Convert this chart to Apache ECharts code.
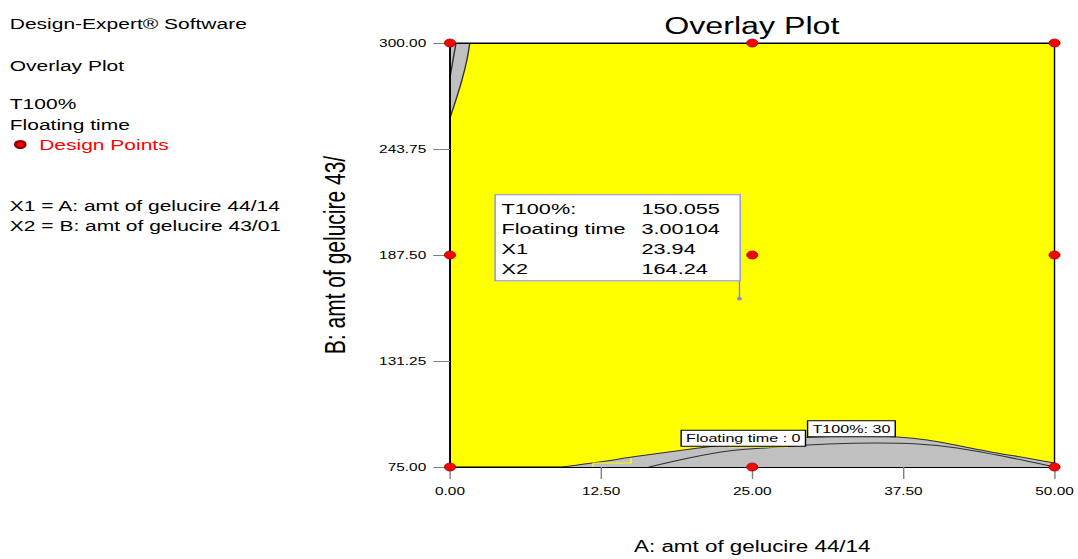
<!DOCTYPE html>
<html>
<head>
<meta charset="utf-8">
<script src="https://cdn.jsdelivr.net/npm/echarts@6/dist/echarts.min.js"></script>
<style>
html,body{margin:0;padding:0;background:#fff;overflow:hidden;}
#wrap{width:1078px;height:559px;overflow:hidden;}
#c{width:770px;height:559px;transform:scaleX(1.4);transform-origin:0 0;}
</style>
</head>
<body>
<div id="wrap"><div id="c"></div></div>
<script>
// ---- data ----
const xTicks = [0, 12.5, 25, 37.5, 50];
const yTicks = [75, 131.25, 187.5, 243.75, 300];
const designPoints = [[0,300],[25,300],[50,300],[0,187.5],[25,187.5],[50,187.5],[0,75],[25,75],[50,75]];
// gray (infeasible) region, bottom: upper boundary
const bottomEnvelope = [[9.29,75],[12.34,77.65],[15.63,80.83],[20.56,85.06],[23.85,87.71],[27.14,89.83],[30.43,90.88],[33.72,91.41],[37.01,90.88],[39.47,89.30],[42.19,86.12],[45.23,82.42],[47.70,79.77],[50,77.12]];
// second contour inside the bottom region
const bottomInner = [[16.45,75],[19.74,79.77],[23.03,83.47],[27.14,85.59],[31.25,87.18],[35.36,87.71],[38.65,87.18],[41.94,85.06],[45.23,81.36],[47.70,78.18],[50,75]];
// gray region, top-left corner
const topLeftBoundary = [[0,260.3],[0.49,269.8],[0.99,280.4],[1.40,291],[1.64,300]];
const topLeftInner = [[0,282],[0.5,300]];
// thin yellow leader lines inside the gray region
const yellowStep = [[11.84,75],[11.84,77.1],[14.97,77.1],[14.97,79.77]];
const floatLeader = [[23.03,85.6],[27.96,85.6]];
// contour labels
const contourLabelText = ['Floating time : 0', 'T100%: 30'];
const contourLabelAt = [[24.26,90.3],[33.2,95.3]];
// flag annotation
const annotPoint = [23.94, 164.24];
const annotNames = ['T100%:', 'Floating time', 'X1', 'X2'];
const annotValues = ['150.055', '3.00104', '23.94', '164.24'];
// side text
const infoLines = ['Design-Expert® Software', 'Overlay Plot', 'T100%', 'Floating time', 'X1 = A: amt of gelucire 44/14', 'X2 = B: amt of gelucire 43/01'];
const infoY = [24, 66, 104, 125, 206, 226];

const FONT = '"Liberation Sans", Arial, sans-serif';
const chart = echarts.init(document.getElementById('c'), null, {renderer: 'svg'});

const option = {
  animation: false,
  textStyle: {fontFamily: FONT},
  title: {
    text: 'Overlay Plot', left: 537, top: 15, textAlign: 'center', padding: 0,
    textStyle: {fontSize: 23, fontWeight: 'normal', color: '#000', fontFamily: FONT}
  },
  legend: {
    data: ['Design Points'], left: 10, top: 137, orient: 'vertical', padding: 0,
    itemWidth: 7, itemHeight: 7, icon: 'circle',
    textStyle: {fontSize: 15, color: '#ff0000', fontFamily: FONT, padding: [0,0,0,5]}
  },
  graphic: infoLines.map((t, i) => ({
    type: 'text', x: 7, y: infoY[i],
    style: {text: t, fontSize: 15, fontFamily: FONT, fill: '#000', verticalAlign: 'middle', textVerticalAlign: 'middle'}
  })),
  grid: {
    left: 321.43, right: 14.29, top: 43, bottom: 91,
    show: true, backgroundColor: '#ffff00', borderColor: '#000', borderWidth: 1
  },
  xAxis: [{
    type: 'value', min: 0, max: 50, interval: 12.5, position: 'bottom', z: 5,
    axisLine: {show: true, lineStyle: {color: '#000', width: 1}},
    axisTick: {show: true, length: 12, lineStyle: {color: '#808080'}},
    axisLabel: {margin: 19, fontSize: 11, color: '#000', fontFamily: FONT, formatter: v => v.toFixed(2)},
    splitLine: {show: false},
    name: 'A: amt of gelucire 44/14', nameLocation: 'middle', nameGap: 71,
    nameTextStyle: {fontSize: 16, color: '#000', fontFamily: FONT}
  }, {
    type: 'value', min: 0, max: 50, position: 'top', z: 5,
    axisLine: {show: true, lineStyle: {color: '#000'}},
    axisTick: {show: false}, axisLabel: {show: false}, splitLine: {show: false}
  }],
  yAxis: [{
    type: 'value', min: 75, max: 300, position: 'left', z: 5,
    axisLine: {show: true, lineStyle: {color: '#000', width: 1}},
    axisTick: {show: true, length: 12, lineStyle: {color: '#808080'}, customValues: yTicks},
    axisLabel: {margin: 17, fontSize: 11, color: '#000', fontFamily: FONT, customValues: yTicks, formatter: v => v.toFixed(2)},
    splitLine: {show: false},
    name: 'B: amt of gelucire 43/01', nameLocation: 'middle', nameGap: 72, nameRotate: 90,
    nameTruncate: {maxWidth: 210, ellipsis: ''},
    nameTextStyle: {fontSize: 21, color: '#000', fontFamily: FONT}
  }, {
    type: 'value', min: 75, max: 300, position: 'right', z: 5,
    axisLine: {show: true, lineStyle: {color: '#000'}},
    axisTick: {show: false}, axisLabel: {show: false}, splitLine: {show: false}
  }],
  series: [
    {
      name: 'bottomRegion', type: 'line', data: bottomEnvelope, smooth: 0.3, showSymbol: false, symbol: 'none',
      lineStyle: {color: '#303030', width: 1}, areaStyle: {color: '#c0c0c0', opacity: 1, origin: 'start'}, z: 2
    },
    {
      name: 'bottomInner', type: 'line', data: bottomInner, smooth: 0.3, showSymbol: false, symbol: 'none',
      lineStyle: {color: '#303030', width: 1}, z: 3
    },
    {
      name: 'topLeftRegion', type: 'line', data: topLeftBoundary, smooth: 0.3, showSymbol: false, symbol: 'none',
      lineStyle: {color: '#303030', width: 1}, areaStyle: {color: '#c0c0c0', opacity: 1, origin: 'end'}, z: 2
    },
    {
      name: 'topLeftInner', type: 'line', data: topLeftInner, showSymbol: false, symbol: 'none',
      lineStyle: {color: '#303030', width: 1}, z: 3
    },
    {
      name: 'yellowStep', type: 'line', data: yellowStep, showSymbol: false, symbol: 'none',
      lineStyle: {color: '#ffff00', width: 1}, z: 3
    },
    {
      name: 'floatLeader', type: 'line', data: floatLeader, showSymbol: false, symbol: 'none',
      lineStyle: {color: '#ffff00', width: 1}, z: 3
    },
    {
      name: 'contourLabels', type: 'scatter', symbolSize: 1, itemStyle: {color: 'rgba(0,0,0,0)', opacity: 1}, z: 6,
      data: contourLabelAt.map((p, i) => ({value: p, name: contourLabelText[i]})),
      label: {
        show: true, position: 'inside', formatter: p => p.name, fontSize: 11.5, color: '#000', fontFamily: FONT,
        backgroundColor: '#fff', borderColor: '#000', borderWidth: 1, padding: [2, 3, 1, 3]
      }
    },
    {
      name: 'annotation', type: 'scatter', z: 7,
      data: [annotPoint],
      symbol: 'path://M1,0L2,0L2,18L1,18Z M0,17L3,17L3,20L0,20Z',
      symbolSize: [3, 20], symbolOffset: [0, -8.5],
      itemStyle: {color: '#8080ff', opacity: 1},
      label: {
        show: true, position: 'top', distance: 0, align: 'right',
        formatter: () => annotNames.map((n, i) => '{a|' + n + '}{b|' + annotValues[i] + '}').join('\n'),
        backgroundColor: '#fff', borderColor: '#8c8cff', borderWidth: 1, padding: [4, 2, 2, 4],
        rich: {
          a: {width: 100, align: 'left', fontSize: 15.5, lineHeight: 19.8, color: '#000', fontFamily: FONT},
          b: {width: 68, align: 'left', fontSize: 15.5, lineHeight: 19.8, color: '#000', fontFamily: FONT}
        }
      }
    },
    {
      name: 'Design Points', type: 'scatter', data: designPoints, symbol: 'circle', symbolSize: 8, z: 10,
      itemStyle: {color: '#ff0000', borderColor: '#900000', borderWidth: 0.6, opacity: 1}
    }
  ]
};
chart.setOption(option);
</script>
</body>
</html>
